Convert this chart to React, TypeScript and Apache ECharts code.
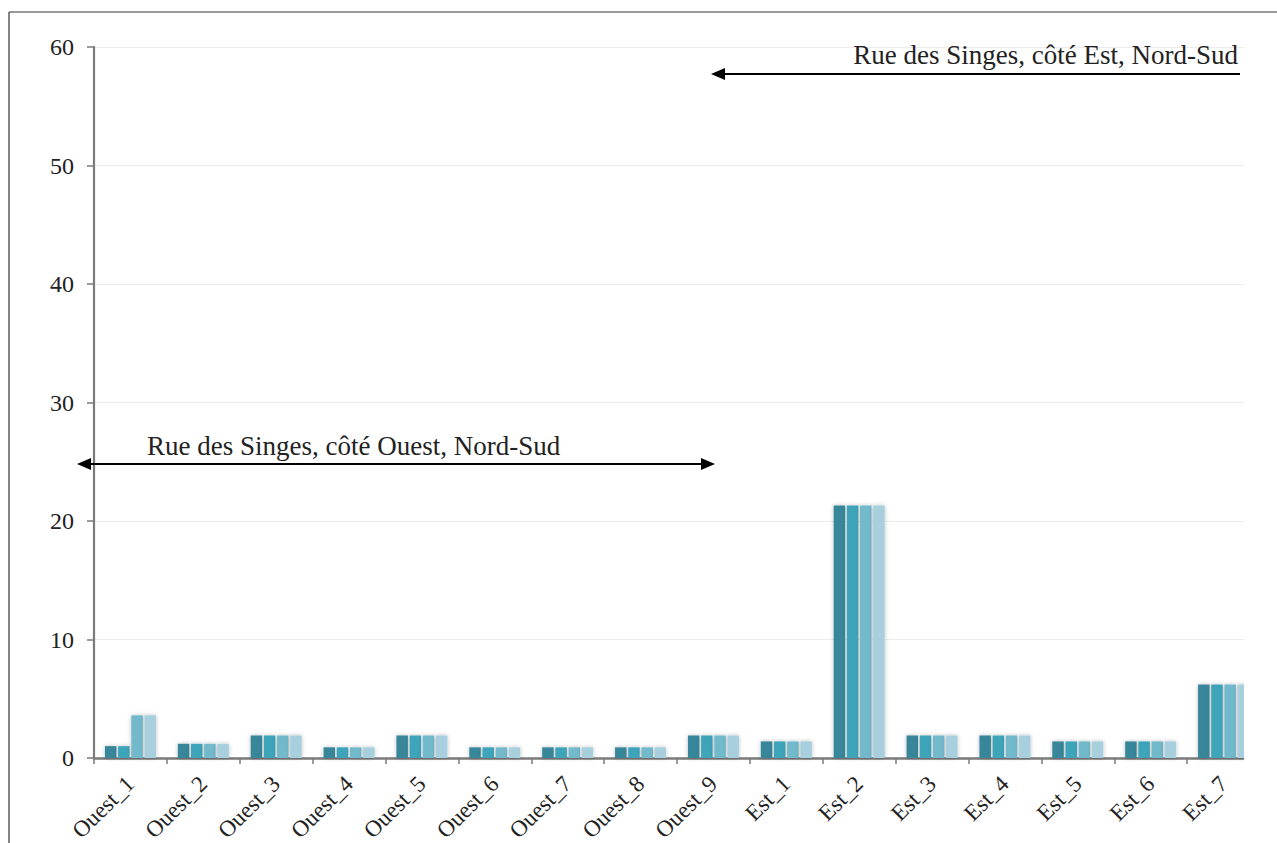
import React, { useEffect, useRef } from "react";
import * as echarts from "echarts";

const categories = [
  "Ouest_1", "Ouest_2", "Ouest_3", "Ouest_4", "Ouest_5", "Ouest_6", "Ouest_7", "Ouest_8", "Ouest_9",
  "Est_1", "Est_2", "Est_3", "Est_4", "Est_5", "Est_6", "Est_7",
];
const seriesA = [1.0, 1.2, 1.9, 0.9, 1.9, 0.9, 0.9, 0.9, 1.9, 1.4, 21.3, 1.9, 1.9, 1.4, 1.4, 6.2];
const seriesB = [1.0, 1.2, 1.9, 0.9, 1.9, 0.9, 0.9, 0.9, 1.9, 1.4, 21.3, 1.9, 1.9, 1.4, 1.4, 6.2];
const seriesC = [3.6, 1.2, 1.9, 0.9, 1.9, 0.9, 0.9, 0.9, 1.9, 1.4, 21.3, 1.9, 1.9, 1.4, 1.4, 6.2];
const seriesD = [3.6, 1.2, 1.9, 0.9, 1.9, 0.9, 0.9, 0.9, 1.9, 1.4, 21.3, 1.9, 1.9, 1.4, 1.4, 6.2];
const seriesNames = ["Série 1", "Série 2", "Série 3", "Série 4"];
const seriesColors = ["#39869a", "#3ea4b9", "#71b9cb", "#a7cfdd"];
const yMin = 0;
const yMax = 60;
const yInterval = 10;
const labelOuest = "Rue des Singes, côté Ouest, Nord-Sud";
const labelEst = "Rue des Singes, côté Est, Nord-Sud";

const FONT = "'Liberation Serif', 'Times New Roman', serif";

export default function App() {
  const ref = useRef<HTMLDivElement>(null);
  useEffect(() => {
    if (!ref.current) return;
    const chart = echarts.init(ref.current, null, { renderer: "svg" });
    const allData = [seriesA, seriesB, seriesC, seriesD];
    const option: any = {
      animation: false,
      backgroundColor: "#ffffff",
      grid: { left: 94, top: 47, width: 1166, height: 711, containLabel: false, outerBoundsMode: "none" },
      xAxis: {
        type: "category",
        data: categories,
        boundaryGap: true,
        axisLine: { show: true, lineStyle: { color: "#7a7a7a", width: 2.5 } },
        axisTick: { show: true, length: 6, lineStyle: { color: "#7a7a7a", width: 1.5 } },
        axisLabel: {
          rotate: 45,
          interval: 0,
          margin: 22,
          fontFamily: FONT,
          fontSize: 23,
          color: "#222222",
        },
        splitLine: { show: false },
      },
      yAxis: {
        type: "value",
        min: yMin,
        max: yMax,
        interval: yInterval,
        axisLine: { show: true, lineStyle: { color: "#7a7a7a", width: 2.2 } },
        axisTick: { show: true, length: 7, lineStyle: { color: "#7a7a7a", width: 1.5 } },
        axisLabel: { margin: 20, fontFamily: FONT, fontSize: 24, color: "#222222" },
        splitLine: { show: true, lineStyle: { color: "#ececec", width: 1 } },
      },
      series: allData.map((d, i) => ({
        type: "bar",
        name: seriesNames[i],
        data: d,
        barGap: "15%",
        barCategoryGap: "30%",
        itemStyle: {
          color: seriesColors[i],
          shadowBlur: 4,
          shadowColor: "rgba(0,0,0,0.25)",
        },
      })),
      graphic: [
        { type: "rect", z: 100, shape: { x: 1244, y: 14, width: 40, height: 840 }, style: { fill: "#ffffff" } },
        { type: "line", z: 101, shape: { x1: 9, y1: 12, x2: 1277, y2: 12 }, style: { stroke: "#777777", lineWidth: 1.5 } },
        { type: "line", z: 101, shape: { x1: 9, y1: 12, x2: 9, y2: 843 }, style: { stroke: "#333333", lineWidth: 1.2 } },
        { type: "line", z: 101, shape: { x1: 88, y1: 464, x2: 704, y2: 464 }, style: { stroke: "#000000", lineWidth: 2 } },
        { type: "polygon", z: 101, shape: { points: [[77, 464], [91, 458], [91, 470]] }, style: { fill: "#000000" } },
        { type: "polygon", z: 101, shape: { points: [[715, 464], [701, 458], [701, 470]] }, style: { fill: "#000000" } },
        {
          type: "text", z: 101, x: 147, y: 446,
          style: { text: labelOuest, fontFamily: FONT, fontSize: 27, fill: "#222222", verticalAlign: "middle", align: "left" },
        },
        { type: "line", z: 101, shape: { x1: 722, y1: 74, x2: 1240, y2: 74 }, style: { stroke: "#000000", lineWidth: 2 } },
        { type: "polygon", z: 101, shape: { points: [[711, 74], [725, 68], [725, 80]] }, style: { fill: "#000000" } },
        {
          type: "text", z: 101, x: 1238, y: 55,
          style: { text: labelEst, fontFamily: FONT, fontSize: 27, fill: "#222222", verticalAlign: "middle", align: "right" },
        },
      ],
    };
    chart.setOption(option);
    return () => chart.dispose();
  }, []);
  return (
    <div
      ref={ref}
      style={{ position: "absolute", left: 0, top: 0, width: 1277, height: 843 }}
    />
  );
}
